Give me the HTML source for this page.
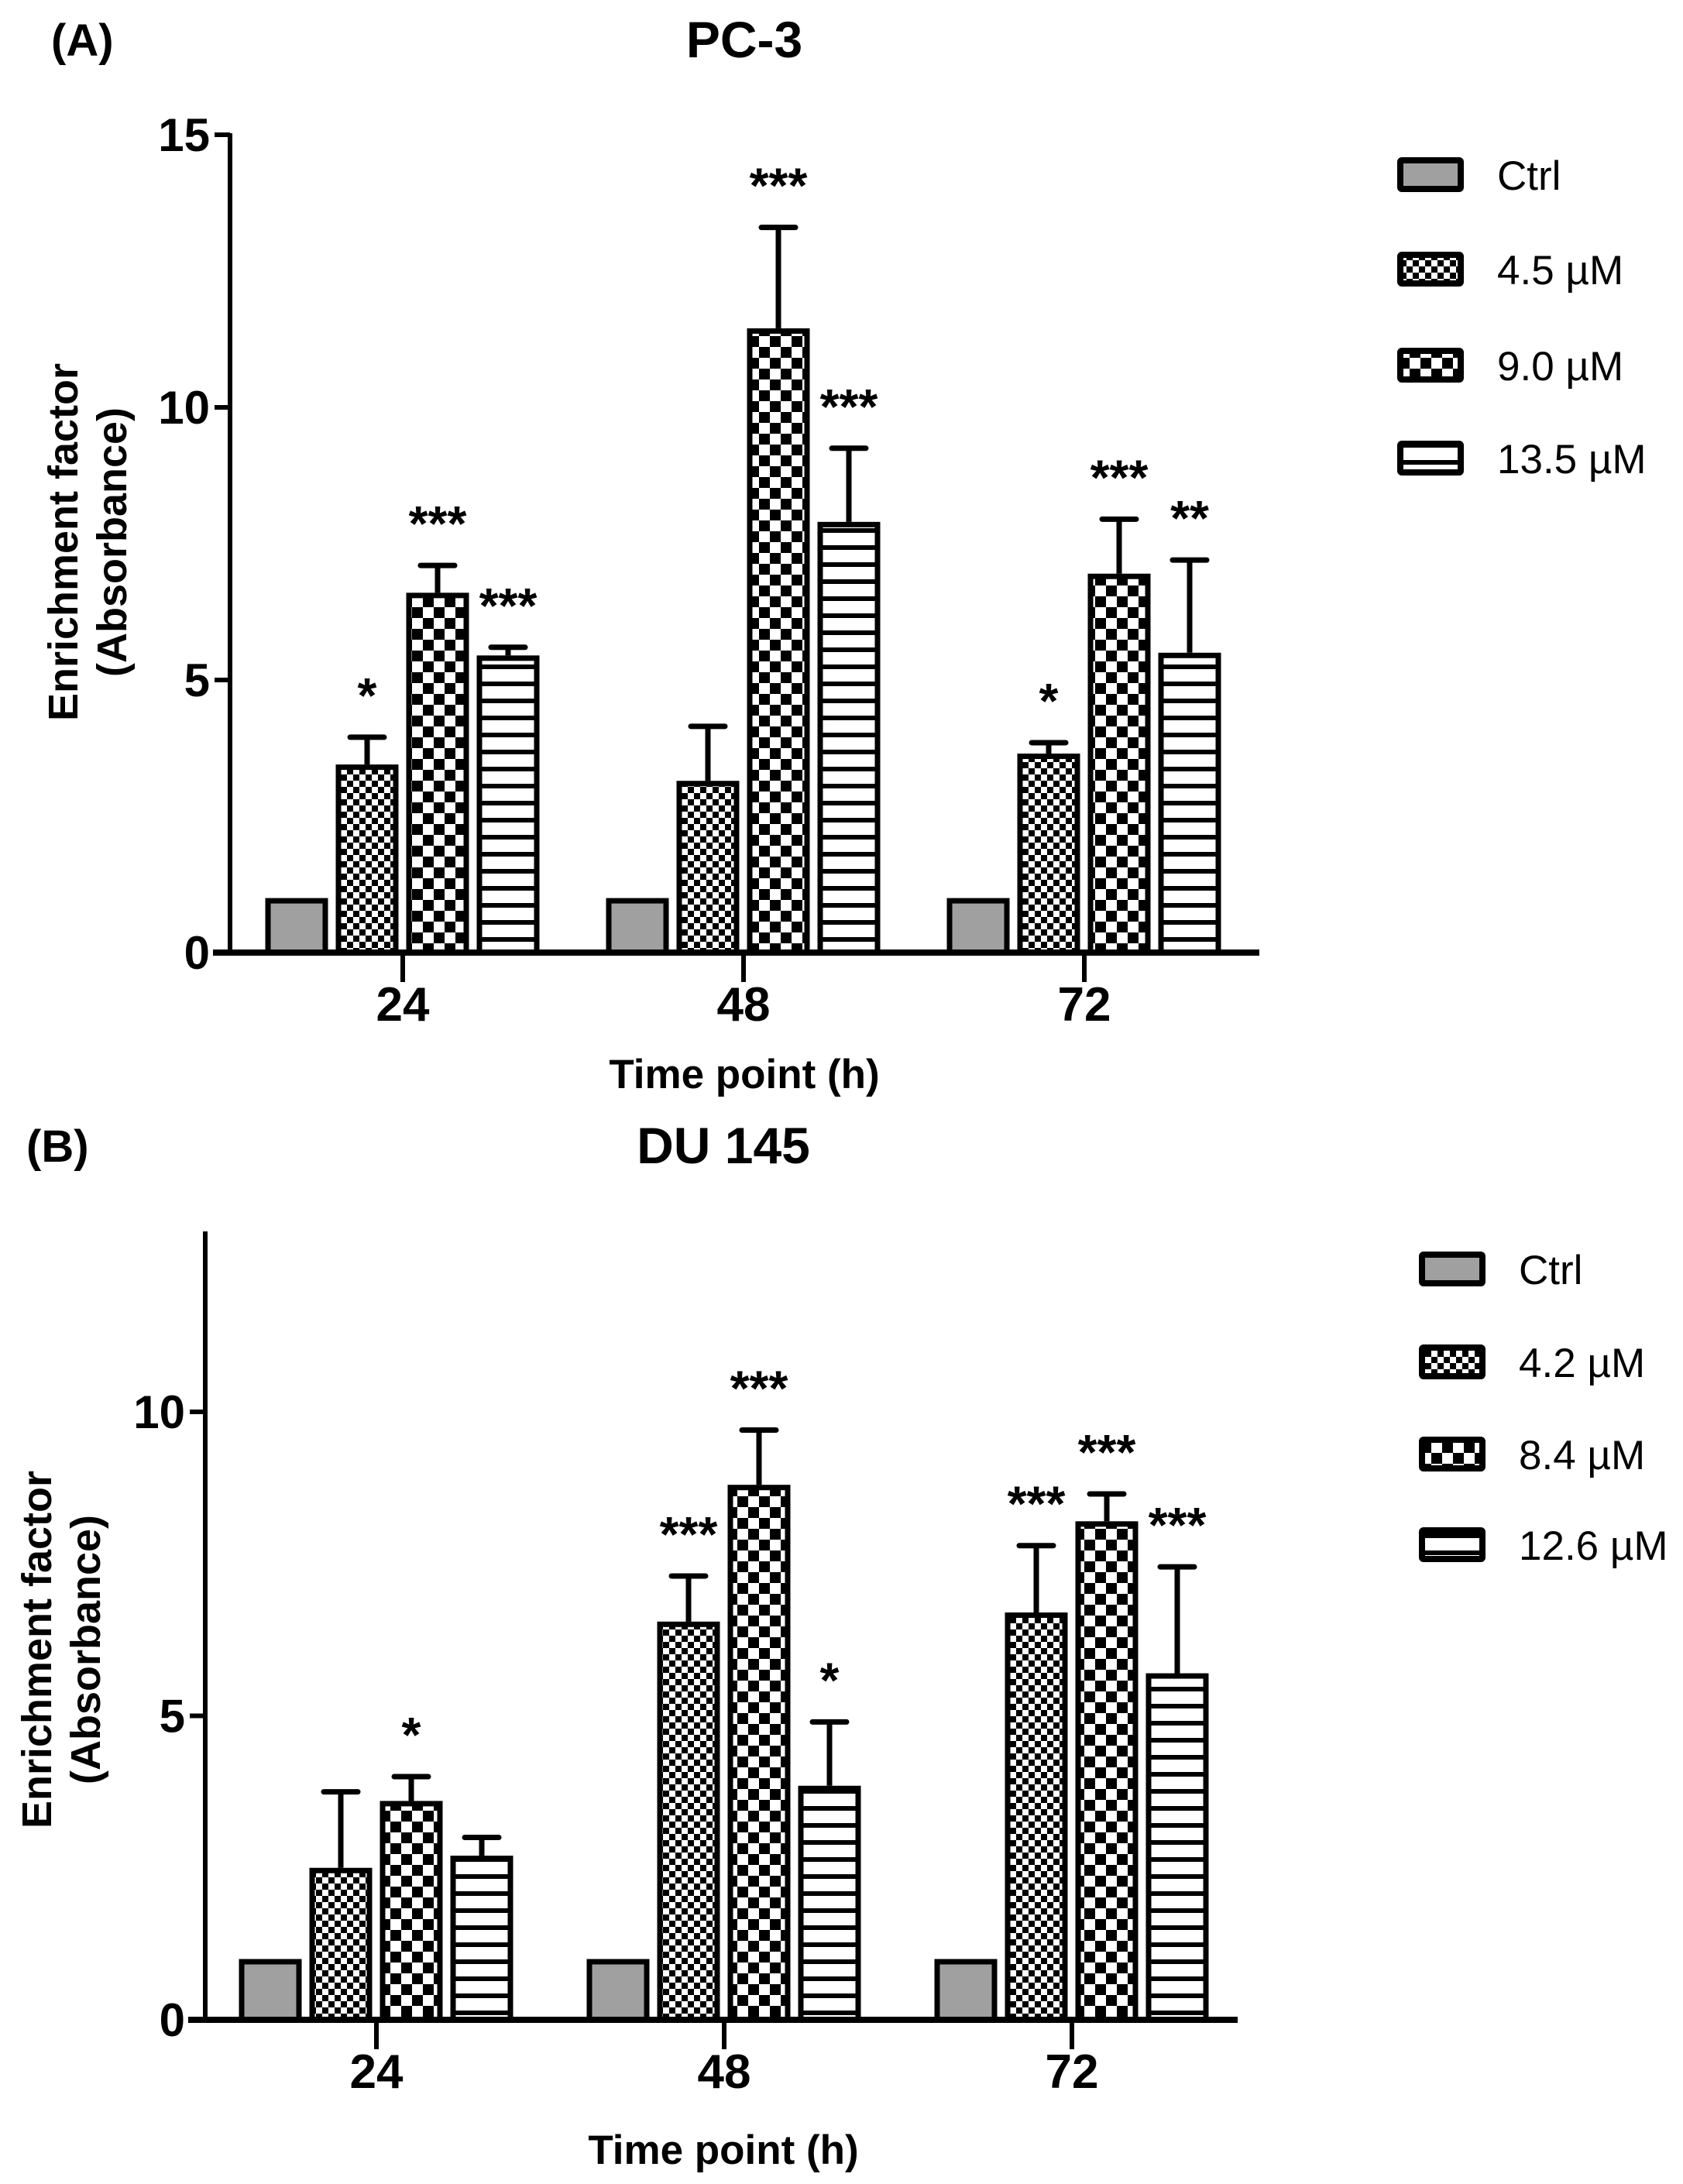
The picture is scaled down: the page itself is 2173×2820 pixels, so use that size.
<!DOCTYPE html>
<html><head><meta charset="utf-8"><style>
html,body{margin:0;padding:0;background:#fff}
svg{display:block}
text{font-family:"Liberation Sans Narrow","Liberation Sans",sans-serif;fill:#000}
</style></head><body>
<svg id="fig" width="2173" height="2820" viewBox="0 0 2173 2820" xmlns="http://www.w3.org/2000/svg">
<defs>
<pattern id="pFine" patternUnits="userSpaceOnUse" width="16" height="16"><rect width="16" height="16" fill="#fff"/><rect width="8" height="8" fill="#000"/><rect x="8" y="8" width="8" height="8" fill="#000"/></pattern>
<pattern id="pCoarse" patternUnits="userSpaceOnUse" width="28" height="28"><rect width="28" height="28" fill="#fff"/><rect width="14" height="14" fill="#000"/><rect x="14" y="14" width="14" height="14" fill="#000"/></pattern>
<pattern id="pStripe" patternUnits="userSpaceOnUse" width="20" height="22"><rect width="20" height="22" fill="#fff"/><rect y="0" width="20" height="6" fill="#000"/></pattern>
</defs>
<g id="panelA"></g>
<g id="panelB"></g>
</svg>
<script>
const categories = ["24","48","72"];
const seriesA_names = ["Ctrl","4.5 \u00b5M","9.0 \u00b5M","13.5 \u00b5M"];
const seriesA_means = [[1,3.45,6.6,5.45],[1,3.15,11.45,7.9],[1,3.65,6.95,5.5]];
const seriesA_errTop = [[null,3.95,7.1,5.6],[null,4.15,13.3,9.25],[null,3.85,7.95,7.2]];
const seriesA_stars = [["","*","***","***"],["","","***","***"],["","*","***","**"]];
const ticksA = [0,5,10,15];
const seriesB_names = ["Ctrl","4.2 \u00b5M","8.4 \u00b5M","12.6 \u00b5M"];
const seriesB_means = [[1,2.5,3.6,2.7],[1,6.55,8.8,3.85],[1,6.7,8.2,5.7]];
const seriesB_errTop = [[null,3.75,4.0,3.0],[null,7.3,9.7,4.9],[null,7.8,8.65,7.45]];
const seriesB_stars = [["","","*",""],["","***","***","*"],["","***","***","***"]];
const ticksB = [0,5,10];

const NS="http://www.w3.org/2000/svg";
const fills=["#a0a0a0","url(#pFine)","url(#pCoarse)","url(#pStripe)"];
function mk(parent,tag,attrs,txt){const e=document.createElementNS(NS,tag);for(const k in attrs)e.setAttribute(k,attrs[k]);if(txt!==undefined)e.textContent=txt;parent.appendChild(e);return e;}

function panel(g,cfg){
  const y=v=>cfg.y0-v*cfg.ppu;
  const gx=i=>cfg.g0+i*cfg.gs;
  const offs=[-137,-46,45,136];
  cfg.means.forEach((grp,i)=>{
    grp.forEach((v,j)=>{
      const cx=gx(i)+offs[j];
      const top=y(v);
      const et=cfg.err[i][j];
      if(et!==null){
        const l=mk(g,'line',{x1:cx,x2:cx,y1:top,y2:y(et),stroke:'#000','stroke-width':7});
        
        
        const c=mk(g,'line',{x1:cx-22,x2:cx+22,y1:y(et),y2:y(et),stroke:'#000','stroke-width':7,'stroke-linecap':'round'});
        
        
      }
      const r=mk(g,'rect',{x:cx-37,y:top+3.5,width:74,height:cfg.y0-top-3.5,fill:fills[j],stroke:'#000','stroke-width':7});
      
      
      const s=cfg.stars[i][j];
      if(s){
        const base=(et!==null?y(et):top)-32;
        const t=mk(g,'text',{x:cx,y:base,'text-anchor':'middle','font-size':64,'font-weight':'bold'},s);
        
        
      }
    });
  });
  const ya=mk(g,'line',{x1:cfg.ax,x2:cfg.ax,y1:cfg.ytop,y2:cfg.y0+3,stroke:'#000','stroke-width':6});
  
  
  const xa=mk(g,'line',{x1:cfg.ax-22,x2:cfg.xend,y1:cfg.y0,y2:cfg.y0,stroke:'#000','stroke-width':8});
  
  
  cfg.ticks.forEach(t=>{
    if(t>0) mk(g,'line',{x1:cfg.ax-20,x2:cfg.ax,y1:y(t),y2:y(t),stroke:'#000','stroke-width':6});
    const tl=mk(g,'text',{x:cfg.ax-26,y:y(t)+21,'text-anchor':'end','font-size':60,'font-weight':'bold'},String(t));
    
    
  });
  categories.forEach((c,i)=>{
    mk(g,'line',{x1:gx(i),x2:gx(i),y1:cfg.y0,y2:cfg.y0+38,stroke:'#000','stroke-width':6});
    const tl=mk(g,'text',{x:gx(i),y:cfg.xlab,'text-anchor':'middle','font-size':62,'font-weight':'bold'},c);
    
    
  });
  const xt=mk(g,'text',{x:cfg.cx,y:cfg.xtitle,'text-anchor':'middle','font-size':53,'font-weight':'bold'},'Time point (h)');
  
  
  const yt=mk(g,'text',{transform:`translate(${cfg.ytx},${cfg.ytc}) rotate(-90)`,'text-anchor':'middle','font-size':54,'font-weight':'bold'});
  
  
  mk(yt,'tspan',{x:0,y:0},'Enrichment factor');
  mk(yt,'tspan',{x:0,y:63},'(Absorbance)');
  const lt=mk(g,'text',{x:cfg.lx,y:cfg.ly,'font-size':58,'font-weight':'bold'},cfg.letter);
  
  
  const tt=mk(g,'text',{x:cfg.cx,y:cfg.ly+2,'text-anchor':'middle','font-size':66,'font-weight':'bold'},cfg.title);
  
  
  cfg.names.forEach((n,j)=>{
    const ly=cfg.legY[j];
    const sw=mk(g,'rect',{x:cfg.legX,y:ly-18,width:78,height:37,fill:fills[j],stroke:'#000','stroke-width':8,rx:2});
    
    
    const te=mk(g,'text',{x:cfg.legX+125,y:ly+20,'font-size':53,'font-family':'Liberation Sans, sans-serif'},n);
    
    
  });
}
panel(document.getElementById('panelA'),{means:seriesA_means,err:seriesA_errTop,stars:seriesA_stars,names:seriesA_names,ticks:ticksA,
  y0:1230,ppu:70.4,ytop:172,ax:297,xend:1626,g0:520,gs:440,xlab:1318,xtitle:1405,cx:961,ytx:100,ytc:700,lx:66,ly:72,letter:'(A)',title:'PC-3',
  legX:1808,legY:[225,347,471,591]});
panel(document.getElementById('panelB'),{means:seriesB_means,err:seriesB_errTop,stars:seriesB_stars,names:seriesB_names,ticks:ticksB,
  y0:2608,ppu:78.5,ytop:1590,ax:265,xend:1598,g0:486,gs:449,xlab:2696,xtitle:2794,cx:934,ytx:66,ytc:2130,lx:34,ly:1500,letter:'(B)',title:'DU 145',
  legX:1836,legY:[1638,1758,1877,1994]});
</script>
</body></html>
